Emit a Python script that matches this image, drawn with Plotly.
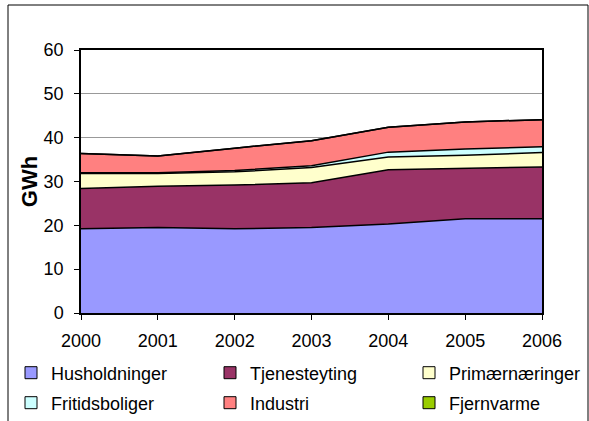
import plotly.graph_objects as go

years = [2000, 2001, 2002, 2003, 2004, 2005, 2006]
husholdninger = [19.2, 19.5, 19.2, 19.5, 20.3, 21.5, 21.5]
tjenesteyting = [9.2, 9.4, 10.0, 10.2, 12.4, 11.5, 11.8]
primaer = [3.4, 2.9, 3.0, 3.5, 2.9, 3.0, 3.3]
fritid = [0.2, 0.2, 0.3, 0.4, 1.1, 1.4, 1.3]
industri = [4.4, 3.8, 5.1, 5.7, 5.7, 6.2, 6.2]
fjernvarme = [0.0, 0.0, 0.0, 0.0, 0.0, 0.0, 0.0]

names = ["Husholdninger", "Tjenesteyting", "Primærnæringer",
         "Fritidsboliger", "Industri", "Fjernvarme"]
series = [husholdninger, tjenesteyting, primaer, fritid, industri, fjernvarme]
colors = ["#9999FF", "#993366", "#FFFFCC", "#CCFFFF", "#FF8080", "#99CC00"]

W, H = 589, 421
L, R, T, B = 81, 47, 50, 108
pw, ph = W - L - R, H - T - B


def px_x(p):
    return (p - L) / pw


def px_y(p):
    return (H - B - p) / ph


# legend entry positions (px): item start x, row centre y
leg_x = [11, 210, 409, 11, 210, 409]
leg_y = [373, 373, 373, 403, 403, 403]
legend_ids = ["legend"] + ["legend%d" % i for i in range(2, 7)]

fig = go.Figure()
for name, vals, col in zip(names, series, colors):
    fig.add_trace(go.Scatter(
        x=years, y=vals, name=name, stackgroup="one", mode="lines",
        line=dict(color="black", width=1.5), fillcolor=col, showlegend=False,
    ))
for name, col, lg in zip(names, colors, legend_ids):
    fig.add_trace(go.Scatter(
        x=[None], y=[None], name=name, mode="markers", legend=lg,
        marker=dict(symbol="square", size=12, color=col,
                    line=dict(color="black", width=1)),
    ))

fam = "Arial, Liberation Sans, sans-serif"
font = dict(family=fam, size=18, color="black")
legends = {}
for lg, lx, ly in zip(legend_ids, leg_x, leg_y):
    legends[lg] = dict(orientation="h", xanchor="left", yanchor="middle",
                       font=font, bgcolor="rgba(0,0,0,0)", borderwidth=0,
                       x=px_x(lx), y=px_y(ly))

fig.update_layout(
    width=W, height=H,
    margin=dict(l=L, r=R, t=T, b=B, autoexpand=False),
    paper_bgcolor="white", plot_bgcolor="white",
    font=font,
    showlegend=True,
    **legends,
    xaxis=dict(range=[2000, 2006], tickmode="array", tickvals=years,
               ticktext=[str(y) for y in years], ticks="outside", ticklen=5,
               tickcolor="black", showline=True, linecolor="black",
               linewidth=1.5, mirror=True, showgrid=False, zeroline=False,
               tickfont=font, ticklabelstandoff=6, automargin=False),
    yaxis=dict(range=[0, 60], tickmode="array",
               tickvals=[0, 10, 20, 30, 40, 50, 60], ticks="outside",
               ticklen=5, tickcolor="black", showline=True, linecolor="black",
               linewidth=1.5, mirror=True, showgrid=True, gridcolor="#999999",
               gridwidth=1, zeroline=False, tickfont=font,
               ticklabelstandoff=7, automargin=False,
               title=dict(text="<b>GWh</b>", font=dict(family=fam, size=22, color="black"),
                          standoff=0)),
    shapes=[dict(type="rect", xref="paper", yref="paper",
                 x0=px_x(8), x1=px_x(588), y0=px_y(430), y1=px_y(5),
                 line=dict(color="black", width=1), fillcolor="rgba(0,0,0,0)",
                 layer="below")],
)

fig.write_html("out.html", config={"displayModeBar": False})
with open("out.html", encoding="utf-8") as f:
    html = f.read()
html = html.replace("<body>", '<body style="margin:0;overflow:hidden">', 1)
with open("out.html", "w", encoding="utf-8") as f:
    f.write(html)
